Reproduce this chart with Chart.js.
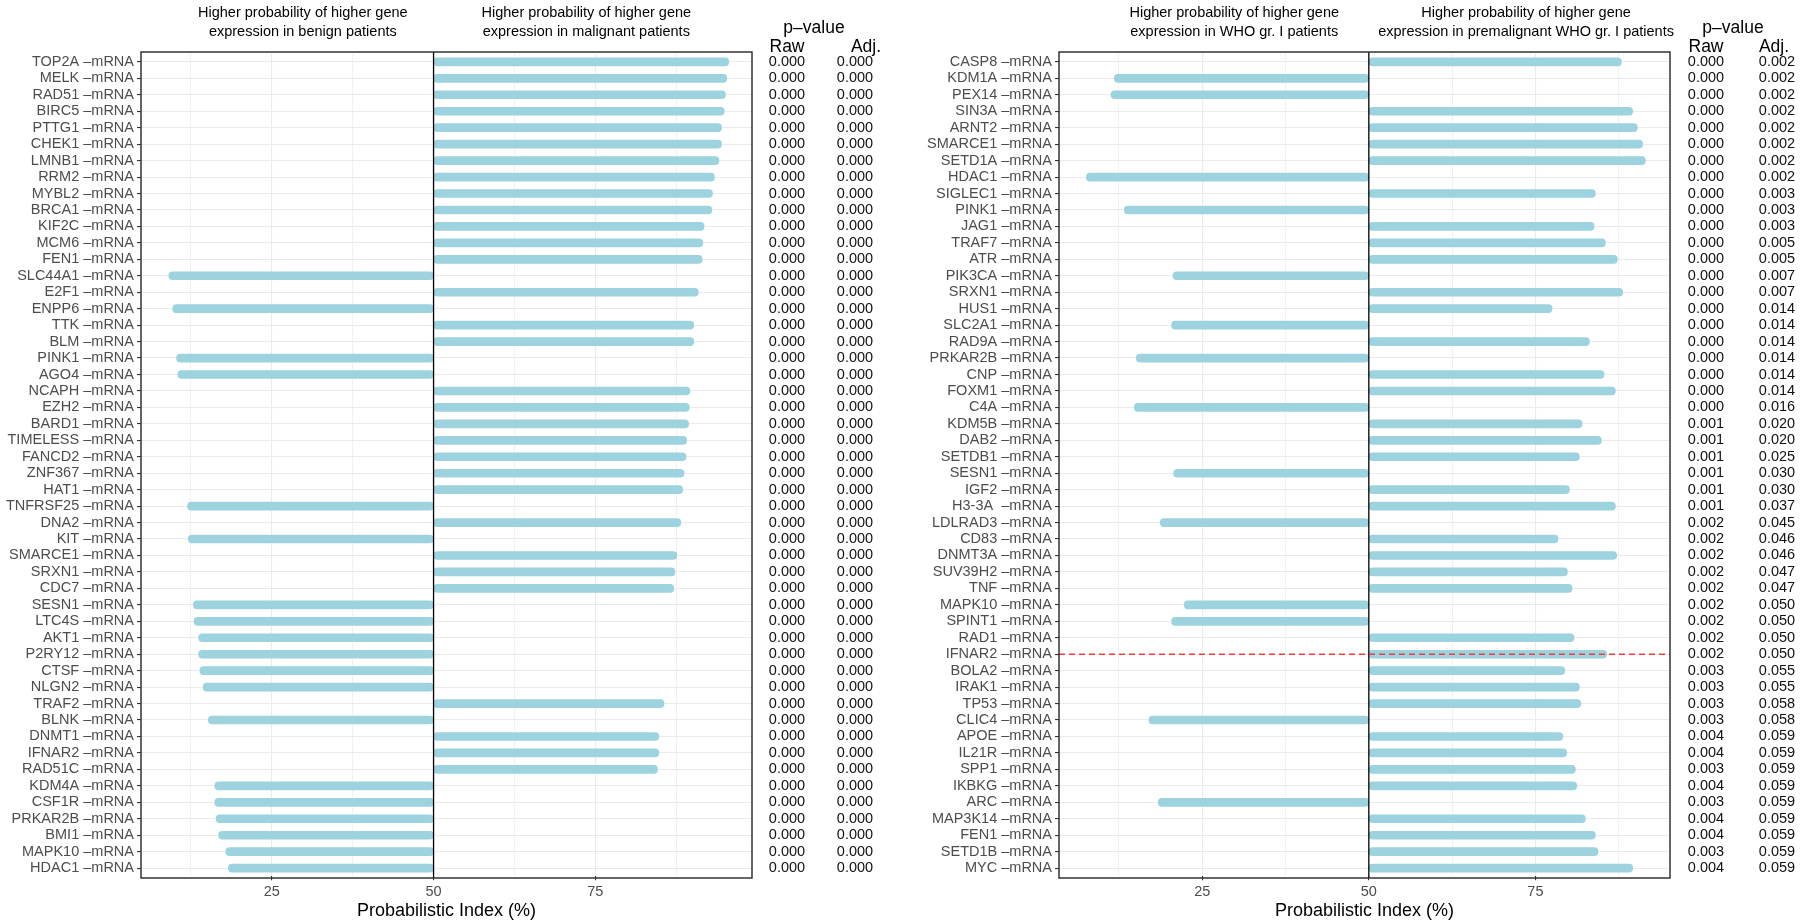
<!DOCTYPE html>
<html>
<head>
<meta charset="utf-8">
<script src="https://cdn.jsdelivr.net/npm/chart.js@4.4.0/dist/chart.umd.min.js"></script>
<style>
  body { margin: 0; background: #fff; }
  .panel { position: absolute; top: 0; width: 900px; height: 923px; }
</style>
</head>
<body>
<div class="panel" style="left:0"><canvas id="benign" width="900" height="923"></canvas></div>
<div class="panel" style="left:900px"><canvas id="who" width="900" height="923"></canvas></div>
<script>
// --- data: benign vs malignant ---
const genesMalignant = ['TOP2A','MELK','RAD51','BIRC5','PTTG1','CHEK1','LMNB1','RRM2','MYBL2','BRCA1',
  'KIF2C','MCM6','FEN1','SLC44A1','E2F1','ENPP6','TTK','BLM','PINK1','AGO4',
  'NCAPH','EZH2','BARD1','TIMELESS','FANCD2','ZNF367','HAT1','TNFRSF25','DNA2','KIT',
  'SMARCE1','SRXN1','CDC7','SESN1','LTC4S','AKT1','P2RY12','CTSF','NLGN2','TRAF2',
  'BLNK','DNMT1','IFNAR2','RAD51C','KDM4A','CSF1R','PRKAR2B','BMI1','MAPK10','HDAC1'];
const piMalignant = [95.6,95.3,95.1,94.9,94.5,94.5,94.1,93.4,93.1,93.0,
  91.8,91.6,91.5,9.1,90.9,9.7,90.2,90.2,10.3,10.5,
  89.6,89.5,89.4,89.1,89.0,88.7,88.5,12.0,88.2,12.1,
  87.6,87.3,87.1,12.9,13.0,13.7,13.7,13.9,14.4,85.6,
  15.2,84.8,84.8,84.6,16.2,16.2,16.4,16.8,17.9,18.3];
const rawMalignant = ['0.000','0.000','0.000','0.000','0.000','0.000','0.000','0.000','0.000','0.000',
  '0.000','0.000','0.000','0.000','0.000','0.000','0.000','0.000','0.000','0.000',
  '0.000','0.000','0.000','0.000','0.000','0.000','0.000','0.000','0.000','0.000',
  '0.000','0.000','0.000','0.000','0.000','0.000','0.000','0.000','0.000','0.000',
  '0.000','0.000','0.000','0.000','0.000','0.000','0.000','0.000','0.000','0.000'];
const adjMalignant = ['0.000','0.000','0.000','0.000','0.000','0.000','0.000','0.000','0.000','0.000',
  '0.000','0.000','0.000','0.000','0.000','0.000','0.000','0.000','0.000','0.000',
  '0.000','0.000','0.000','0.000','0.000','0.000','0.000','0.000','0.000','0.000',
  '0.000','0.000','0.000','0.000','0.000','0.000','0.000','0.000','0.000','0.000',
  '0.000','0.000','0.000','0.000','0.000','0.000','0.000','0.000','0.000','0.000'];

// --- data: WHO gr. I vs premalignant WHO gr. I ---
const genesPremalignant = ['CASP8','KDM1A','PEX14','SIN3A','ARNT2','SMARCE1','SETD1A','HDAC1','SIGLEC1','PINK1',
  'JAG1','TRAF7','ATR','PIK3CA','SRXN1','HUS1','SLC2A1','RAD9A','PRKAR2B','CNP',
  'FOXM1','C4A','KDM5B','DAB2','SETDB1','SESN1','IGF2','H3-3A ','LDLRAD3','CD83',
  'DNMT3A','SUV39H2','TNF','MAPK10','SPINT1','RAD1','IFNAR2','BOLA2','IRAK1','TP53',
  'CLIC4','APOE','IL21R','SPP1','IKBKG','ARC','MAP3K14','FEN1','SETD1B','MYC'];
const piPremalignant = [87.9,11.8,11.3,89.6,90.3,91.1,91.5,7.6,84.0,13.3,
  83.8,85.5,87.3,20.6,88.1,77.5,20.4,83.1,15.1,85.3,
  87.0,14.8,82.0,84.9,81.6,20.7,80.1,87.0,18.7,78.4,
  87.2,79.8,80.5,22.3,20.4,80.8,85.7,79.4,81.6,81.8,
  17.0,79.1,79.7,81.0,81.2,18.4,82.5,84.0,84.4,89.6];
const rawPremalignant = ['0.000','0.000','0.000','0.000','0.000','0.000','0.000','0.000','0.000','0.000',
  '0.000','0.000','0.000','0.000','0.000','0.000','0.000','0.000','0.000','0.000',
  '0.000','0.000','0.001','0.001','0.001','0.001','0.001','0.001','0.002','0.002',
  '0.002','0.002','0.002','0.002','0.002','0.002','0.002','0.003','0.003','0.003',
  '0.003','0.004','0.004','0.003','0.004','0.003','0.004','0.004','0.003','0.004'];
const adjPremalignant = ['0.002','0.002','0.002','0.002','0.002','0.002','0.002','0.002','0.003','0.003',
  '0.003','0.005','0.005','0.007','0.007','0.014','0.014','0.014','0.014','0.014',
  '0.014','0.016','0.020','0.020','0.025','0.030','0.030','0.037','0.045','0.046',
  '0.046','0.047','0.047','0.050','0.050','0.050','0.050','0.055','0.055','0.058',
  '0.058','0.059','0.059','0.059','0.059','0.059','0.059','0.059','0.059','0.059'];

const xTicks = [12.5, 25, 37.5, 50, 62.5, 75, 87.5];

// --- estilos ---
const FONT = '"Liberation Sans", Arial, sans-serif';
const BAR = '#9dd2df';
const GRID = '#ebebeb';
const BOX_TOP = 52, BOX_BOTTOM = 878;

Chart.defaults.font.family = FONT;

function drawPanel(id, p) {
  const step = (BOX_BOTTOM - BOX_TOP) / 50.2;
  const inset = 0.1 * step;

  const overlay = {
    id: 'overlay_' + id,
    afterDatasetsDraw(chart) {
      const { ctx, chartArea: a, scales: { x, y } } = chart;
      const s = y.getPixelForValue(1) - y.getPixelForValue(0);
      const top = y.getPixelForValue(0) - 0.6 * s;
      const bottom = y.getPixelForValue(p.genes.length - 1) + 0.6 * s;
      ctx.save();
      // vertical reference at 50
      ctx.strokeStyle = '#000';
      ctx.lineWidth = 1.3;
      ctx.beginPath();
      ctx.moveTo(x.getPixelForValue(50), top);
      ctx.lineTo(x.getPixelForValue(50), bottom);
      ctx.stroke();
      // cut-off line
      if (p.cutoff !== undefined) {
        const yc = y.getPixelForValue(p.cutoff);
        ctx.strokeStyle = '#f23c3c';
        ctx.lineWidth = 1.5;
        ctx.setLineDash([6, 4]);
        ctx.beginPath();
        ctx.moveTo(a.left, yc);
        ctx.lineTo(a.right, yc);
        ctx.stroke();
        ctx.setLineDash([]);
      }
      // panel border
      ctx.strokeStyle = '#333';
      ctx.lineWidth = 1.5;
      ctx.strokeRect(a.left, top, a.right - a.left, bottom - top);

      // headers
      ctx.fillStyle = '#000';
      ctx.textBaseline = 'middle';
      ctx.textAlign = 'center';
      ctx.font = '14.5px ' + FONT;
      ctx.fillText(p.headLeft[0], x.getPixelForValue(29.8), 13);
      ctx.fillText(p.headLeft[1], x.getPixelForValue(29.8), 32);
      ctx.fillText(p.headRight[0], x.getPixelForValue(73.6), 13);
      ctx.fillText(p.headRight[1], x.getPixelForValue(73.6), 32);

      // p-value table
      const cRaw = a.right + p.rawOff, cAdj = a.right + p.adjOff;
      ctx.font = '17.5px ' + FONT;
      ctx.fillText('p\u2013value', cRaw + 27, 28);
      ctx.fillText('Raw', cRaw, 47);
      ctx.fillText('Adj.', cAdj + p.adjHeadShift, 47);
      ctx.font = '14.5px ' + FONT;
      ctx.fillStyle = '#111';
      p.genes.forEach((g, i) => {
        const yy = y.getPixelForValue(i);
        ctx.fillText(p.raw[i], cRaw, yy);
        ctx.fillText(p.adj[i], cAdj, yy);
      });
      ctx.restore();
    }
  };

  new Chart(document.getElementById(id).getContext('2d'), {
    type: 'bar',
    data: {
      labels: p.genes,
      datasets: [{
        data: p.pi.map(v => [50, v]),
        backgroundColor: BAR,
        barThickness: 8,
        borderRadius: 4,
        borderSkipped: false
      }]
    },
    options: {
      indexAxis: 'y',
      responsive: false,
      animation: false,
      layout: { padding: { top: BOX_TOP + inset, right: p.padRight, left: 0, bottom: 0 } },
      plugins: { legend: { display: false }, tooltip: { enabled: false } },
      scales: {
        y: {
          type: 'category',
          offset: true,
          border: { display: false },
          grid: { offset: false, color: GRID, lineWidth: 1.1, tickLength: 4, tickColor: '#333', tickWidth: 1.1 },
          ticks: {
            autoSkip: false, padding: 3, color: '#4d4d4d',
            font: { size: 14.5 },
            callback: (v, i) => p.genes[i] + ' \u2013mRNA'
          },
          afterFit(s) { s.width = p.yWidth; }
        },
        x: {
          type: 'linear',
          min: p.xMin, max: p.xMax,
          border: { display: false },
          afterBuildTicks(s) { s.ticks = xTicks.map(v => ({ value: v })); },
          grid: {
            color: c => (c.tick && c.tick.value === 50) ? 'rgba(0,0,0,0)' : GRID,
            lineWidth: c => (c.tick && c.tick.value % 25 === 0) ? 1.1 : 0.7,
            tickColor: c => (c.tick && c.tick.value % 25 === 0) ? '#333' : 'rgba(0,0,0,0)',
            tickLength: 4, tickWidth: 1.1
          },
          ticks: {
            autoSkip: false, maxRotation: 0, padding: 3, color: '#4d4d4d',
            font: { size: 14.5 },
            callback: v => (v % 25 === 0 ? String(v) : '')
          },
          title: {
            display: true, text: 'Probabilistic Index (%)', color: '#000',
            font: { size: 18 }, padding: { top: 0, bottom: 1 }
          },
          afterFit(s) { s.height = 923 - (BOX_BOTTOM - inset); }
        }
      }
    },
    plugins: [overlay]
  });
}

drawPanel('benign', {
  genes: genesMalignant, pi: piMalignant, raw: rawMalignant, adj: adjMalignant,
  xMin: 4.8, xMax: 99.2, yWidth: 141, padRight: 148,
  rawOff: 35, adjOff: 103, adjHeadShift: 11,
  headLeft: ['Higher probability of higher gene', 'expression in benign patients'],
  headRight: ['Higher probability of higher gene', 'expression in malignant patients']
});

drawPanel('who', {
  genes: genesPremalignant, pi: piPremalignant, raw: rawPremalignant, adj: adjPremalignant,
  xMin: 3.5, xMax: 95.2, yWidth: 159, padRight: 130,
  rawOff: 36, adjOff: 107, adjHeadShift: -3, cutoff: 36,
  headLeft: ['Higher probability of higher gene', 'expression in WHO gr. I patients'],
  headRight: ['Higher probability of higher gene', 'expression in premalignant WHO gr. I patients']
});
</script>
</body>
</html>
